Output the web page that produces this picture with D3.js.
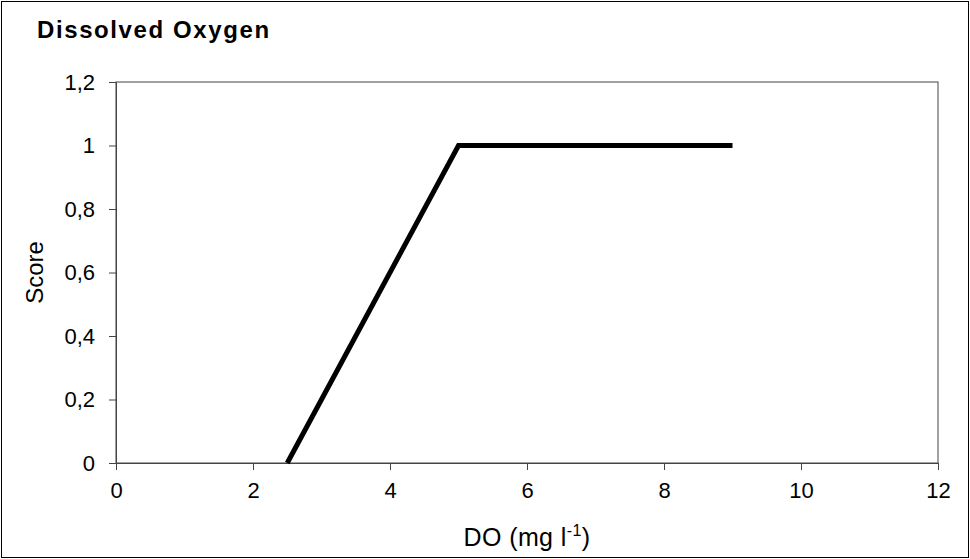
<!DOCTYPE html>
<html><head><meta charset="utf-8">
<script src="https://cdn.jsdelivr.net/npm/d3@7"></script>
<style>body{margin:0;background:#fff}svg{display:block}</style>
</head><body>
<svg id="c" width="970" height="559"></svg>
<script>
const xValues = [2.5, 5, 9];
const scoreValues = [0, 1, 1];
const xTicks = [0, 2, 4, 6, 8, 10, 12];
const yTicks = [0, 0.2, 0.4, 0.6, 0.8, 1.0, 1.2];
const titleText = "Dissolved Oxygen";
const yTitle = "Score";

const svg = d3.select("#c");
const W = 970, H = 559;
const m = {left: 116, right: 970 - 938, top: 82, bottom: 559 - 463};
const font = "'Liberation Sans', Arial, sans-serif";

svg.append("rect").attr("x", 1.5).attr("y", 1.5).attr("width", W - 3).attr("height", H - 3)
  .attr("fill", "#fff").attr("stroke", "#000").attr("stroke-width", 1);

const x = d3.scaleLinear().domain([0, 12]).range([m.left, W - m.right]);
const y = d3.scaleLinear().domain([0, 1.2]).range([H - m.bottom, m.top]);

const axisColor = "#444";
svg.append("rect").attr("x", m.left).attr("y", m.top)
  .attr("width", x(12) - x(0)).attr("height", y(0) - y(1.2))
  .attr("fill", "none").attr("stroke", axisColor).attr("stroke-width", 1);

const fmt = d => String(+d.toFixed(1)).replace(".", ",");

const gx = svg.append("g").attr("transform", `translate(0,${y(0)})`)
  .call(d3.axisBottom(x).tickValues(xTicks).tickSize(7).tickPadding(12).tickFormat(d => d));
const gy = svg.append("g").attr("transform", `translate(${x(0)},0)`)
  .call(d3.axisLeft(y).tickValues(yTicks).tickSize(7).tickPadding(14).tickFormat(fmt));
[gx, gy].forEach(g => {
  g.select(".domain").attr("stroke", axisColor);
  g.selectAll(".tick line").attr("stroke", axisColor);
  g.selectAll(".tick text").attr("font-family", font).attr("font-size", 22).attr("fill", "#000");
});

const line = d3.line().x((d, i) => x(xValues[i])).y((d, i) => y(scoreValues[i]));
svg.append("path").datum(xValues).attr("d", line)
  .attr("fill", "none").attr("stroke", "#000").attr("stroke-width", 5)
  .attr("stroke-linejoin", "miter").attr("stroke-linecap", "butt");

svg.append("text").attr("x", 37).attr("y", 38).text(titleText)
  .attr("font-family", font).attr("font-size", 24).attr("font-weight", "bold")
  .attr("letter-spacing", 1.6);

svg.append("text").attr("transform", `translate(43,${(y(0) + y(1.2)) / 2}) rotate(-90)`)
  .attr("text-anchor", "middle").attr("font-family", font).attr("font-size", 24).text(yTitle);

const xt = svg.append("text").attr("x", (x(0) + x(12)) / 2).attr("y", 546)
  .attr("text-anchor", "middle").attr("font-family", font).attr("font-size", 25)
  .attr("letter-spacing", 0.4);
xt.append("tspan").text("DO (mg l");
xt.append("tspan").attr("font-size", 16).attr("dy", -10).text("-1");
xt.append("tspan").attr("dy", 10).text(")");
</script>
</body></html>
